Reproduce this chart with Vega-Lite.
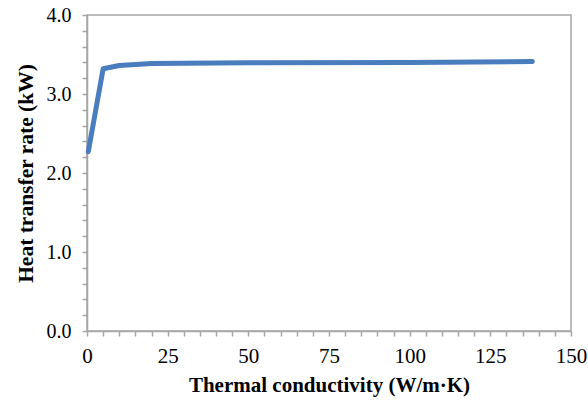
{
  "$schema": "https://vega.github.io/schema/vega-lite/v6.json",
  "width": 484,
  "height": 316,
  "autosize": {"type": "none"},
  "padding": {"left": 87, "top": 15, "right": 17, "bottom": 73},
  "background": "white",
  "config": {
    "view": {"stroke": "#a6a6a6", "strokeWidth": 1.5},
    "axis": {
      "labelFont": "Liberation Serif",
      "titleFont": "Liberation Serif",
      "labelColor": "black",
      "titleColor": "black",
      "domainColor": "#a6a6a6",
      "tickColor": "#a6a6a6",
      "domainWidth": 1.5,
      "tickWidth": 1.5,
      "grid": false
    }
  },
  "data": {
    "values": [
      {"k": 0.4, "q": 2.27},
      {"k": 5, "q": 3.32},
      {"k": 10, "q": 3.36},
      {"k": 20, "q": 3.385},
      {"k": 50, "q": 3.395},
      {"k": 100, "q": 3.40},
      {"k": 138, "q": 3.41}
    ]
  },
  "layer": [
    {
      "mark": {"type": "line", "color": "#4a7dbd", "strokeWidth": 5, "strokeCap": "round", "strokeJoin": "round"},
      "encoding": {
        "x": {
          "field": "k", "type": "quantitative",
          "scale": {"domain": [0, 150], "nice": false, "zero": false},
          "axis": {
            "orient": "bottom",
            "values": [0, 25, 50, 75, 100, 125, 150],
            "tickSize": 5,
            "labelFontSize": 21,
            "labelPadding": 9,
            "labelFlush": false,
            "title": "Thermal conductivity (W/m·K)",
            "titleFontSize": 21,
            "titleFontWeight": "bold",
            "titlePadding": 8
          }
        },
        "y": {
          "field": "q", "type": "quantitative",
          "scale": {"domain": [0, 4], "nice": false, "zero": true},
          "axis": {
            "orient": "left",
            "values": [0, 1, 2, 3, 4],
            "format": ".1f",
            "tickSize": 5,
            "labelFontSize": 20,
            "labelPadding": 11,
            "labelFlush": false,
            "title": "Heat transfer rate (kW)",
            "titleFontSize": 21.5,
            "titleFontWeight": "bold",
            "titlePadding": 9
          }
        }
      }
    },
    {
      "mark": {"type": "point", "opacity": 0},
      "encoding": {
        "x": {
          "field": "k", "type": "quantitative",
          "axis": {
            "orient": "bottom",
            "values": [5, 10, 15, 20, 30, 35, 40, 45, 55, 60, 65, 70, 80, 85, 90, 95, 105, 110, 115, 120, 130, 135, 140, 145],
            "tickSize": 5,
            "labels": false,
            "domain": false,
            "title": null
          }
        },
        "y": {
          "field": "q", "type": "quantitative",
          "axis": {
            "orient": "left",
            "values": [0.2, 0.4, 0.6, 0.8, 1.2, 1.4, 1.6, 1.8, 2.2, 2.4, 2.6, 2.8, 3.2, 3.4, 3.6, 3.8],
            "tickSize": 5,
            "labels": false,
            "domain": false,
            "title": null
          }
        }
      }
    }
  ],
  "resolve": {"axis": {"x": "independent", "y": "independent"}}
}
